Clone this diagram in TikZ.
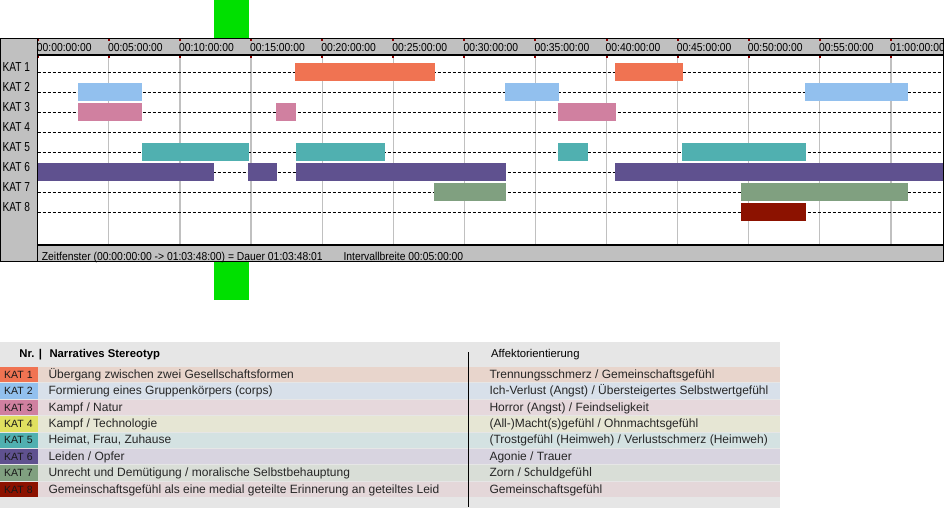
\documentclass[tikz,border=0pt]{standalone}
\usepackage{fontspec}
\setmainfont{Liberation Sans}
\newfontfamily\msf[FakeStretch=0.9]{Liberation Sans}
\newfontfamily\msk[FakeStretch=0.78]{Liberation Sans}
\newfontfamily\calf{Carlito}
\definecolor{k1}{HTML}{F07352}
\definecolor{k2}{HTML}{92C0EE}
\definecolor{k3}{HTML}{D080A0}
\definecolor{k4}{HTML}{E0E060}
\definecolor{k5}{HTML}{50B0B0}
\definecolor{k6}{HTML}{5F518F}
\definecolor{k7}{HTML}{80A080}
\definecolor{k8}{HTML}{8C1200}
\definecolor{t1}{HTML}{E8D5CC}
\definecolor{t2}{HTML}{D8E0EA}
\definecolor{t3}{HTML}{E6D8DC}
\definecolor{t4}{HTML}{E6E6D4}
\definecolor{t5}{HTML}{D4E2E2}
\definecolor{t6}{HTML}{D8D4E0}
\definecolor{t7}{HTML}{D9DED7}
\definecolor{t8}{HTML}{E4D7D9}
\definecolor{tabgray}{HTML}{E6E6E6}
\definecolor{panelgray}{HTML}{C0C0C0}
\definecolor{gridc}{HTML}{C0C0C0}
\definecolor{tickred}{HTML}{8B0000}
\definecolor{mgreen}{HTML}{00E000}
\tikzset{
  hdr/.style={inner sep=0pt, anchor=base west, font=\msf\fontsize{11.5}{12}\selectfont},
  katlab/.style={inner sep=0pt, anchor=base west, font=\msk\fontsize{13}{14}\selectfont},
  legt/.style={inner sep=0pt, anchor=base west, font=\fontsize{12}{13}\selectfont, text=black!85},
  legk/.style={inner sep=0pt, anchor=base west, font=\fontsize{10.5}{12}\selectfont, text=black!90},
  legh/.style={inner sep=0pt, anchor=base west, font=\bfseries\fontsize{11.3}{12}\selectfont},
  dashline/.style={black, line width=1pt, dash pattern=on 3pt off 2pt},
  gridline/.style={gridc, line width=1.2pt},
  border/.style={black, line width=1.3pt}
}
\newcommand{\legrow}[3]{%
  \pgfmathsetmacro\ry{367+16.4*(#1-1)}%
  \fill[t#1] (38.3,\ry) rectangle (780,\ry+15.4);
  \fill[k#1] (0,\ry) rectangle (38.3,\ry+15.4);
  \node[legk] (lk#1) at (4,\ry+11.3) {KAT #1};
  \node[legt] (ln#1) at (48.3,\ry+11.3) {#2};
  \node[legt] (la#1) at (489.3,\ry+11.3) {#3};
}
\begin{document}
\begin{tikzpicture}[x=1pt,y=-1pt]
\useasboundingbox (0,0) rectangle (945,530);
% green markers
\fill[mgreen] (214,0) rectangle (249,38);
\fill[mgreen] (214,262) rectangle (249,299.5);
% panel
\fill[panelgray] (0,38) rectangle (943.5,262);
\fill[white] (37.7,55) rectangle (943.5,245);
% vertical grid
\foreach \t in {0,...,12} {
  \pgfmathsetmacro\gx{37.7+71.1*\t}
  \draw[gridline] (\gx,55) -- (\gx,245);
}
% dashed row lines
\foreach \i in {0,...,7} {
  \pgfmathsetmacro\dy{72+20*\i}
  \draw[dashline] (37.7,\dy) -- (943,\dy);
}
% bars
\foreach \r/\xa/\xb in {1/295/434.7, 1/615.3/682.7,
  2/78.3/141.7, 2/505/558.7, 2/805.3/907.7,
  3/78.3/141.7, 3/276.3/295.7, 3/558.3/615.7,
  5/141.7/248.7, 5/295.7/384.7, 5/558.3/587.7, 5/682.3/805.7,
  6/37.7/213.7, 6/248.3/277, 6/295.7/505.7, 6/615.3/943,
  7/434.3/505.7, 7/741.3/907.7,
  8/741.3/805.7} {
  \pgfmathsetmacro\ya{62.7+20*(\r-1)}
  \fill[k\r] (\xa,\ya) rectangle (\xb,\ya+18);
}
% header labels
\begin{scope}
\clip (37,38) rectangle (942.8,55);
\foreach \t/\lab in {0/00:00:00:00,1/00:05:00:00,2/00:10:00:00,3/00:15:00:00,4/00:20:00:00,5/00:25:00:00,6/00:30:00:00,7/00:35:00:00,8/00:40:00:00,9/00:45:00:00,10/00:50:00:00,11/00:55:00:00,12/01:00:00:00} {
  \pgfmathsetmacro\gx{37.7+71.1*\t}
  \node[hdr] (h\t) at (\gx-1,51.7) {\lab};
}
\end{scope}
% red ticks
\foreach \t in {0,...,12} {
  \pgfmathsetmacro\gx{37.7+71.1*\t}
  \fill[tickred] (\gx-1,38) rectangle (\gx+1,40.5);
  \fill[tickred] (\gx-1,54) rectangle (\gx+1,57.5);
}
% borders
\draw[border] (0.65,38.65) rectangle (943.35,261.35);
\draw[border] (37.7,38) -- (37.7,262);
\draw[border] (37.7,55) -- (943.5,55);
\draw[border] (37.7,245) -- (943.5,245);
% row labels
\foreach \i in {1,...,8} {
  \pgfmathsetmacro\ly{71.7+20*(\i-1)}
  \node[katlab] (kat\i) at (2.3,\ly) {KAT \i};
}
% status bar
\node[hdr] (status) at (41.7,260) {Zeitfenster (00:00:00:00 -> 01:03:48:00) = Dauer 01:03:48:01};
\node[hdr] (interval) at (343.3,260) {Intervallbreite 00:05:00:00};
% legend table
\fill[tabgray] (0,342.3) rectangle (780,507.7);
\node[legh] (nr) at (19.3,357.7) {Nr. |};
\node[legh] (narr) at (49.3,357.7) {Narratives Stereotyp};
\node[inner sep=0pt, anchor=base west, font=\fontsize{11.3}{12}\selectfont] (aff) at (491,357.7) {Affektorientierung};
\legrow{1}{Übergang zwischen zwei Gesellschaftsformen}{Trennungsschmerz / Gemeinschaftsgefühl}
\legrow{2}{Formierung eines Gruppenkörpers (corps)}{Ich-Verlust (Angst) / Übersteigertes Selbstwertgefühl}
\legrow{3}{Kampf / Natur}{Horror (Angst) / Feindseligkeit}
\legrow{4}{Kampf / Technologie}{(All-)Macht(s)gefühl / Ohnmachtsgefühl}
\legrow{5}{Heimat, Frau, Zuhause}{(Trostgefühl (Heimweh) / Verlustschmerz (Heimweh)}
\legrow{6}{Leiden / Opfer}{Agonie / Trauer}
\legrow{7}{Unrecht und Demütigung / moralische Selbstbehauptung}{Zorn / {\calf\fontsize{13}{14}\selectfont Schuldgefühl}}
\legrow{8}{Gemeinschaftsgefühl als eine medial geteilte Erinnerung an geteiltes Leid}{Gemeinschaftsgefühl}
\draw[black, line width=1pt] (468.5,352) -- (468.5,507);
\end{tikzpicture}
\end{document}
